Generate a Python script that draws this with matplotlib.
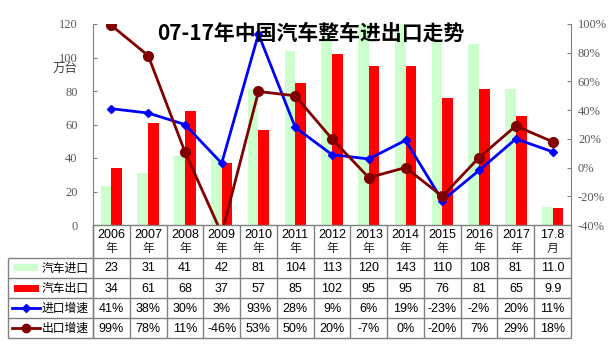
import matplotlib
matplotlib.use("Agg")
import matplotlib.pyplot as plt
import numpy as np
from matplotlib.transforms import blended_transform_factory
from matplotlib.patches import Rectangle
from matplotlib.lines import Line2D

plt.rcParams['font.family'] = ['Noto Sans CJK SC', 'DejaVu Sans']

# ---- data -------------------------------------------------------------
years = ["2006", "2007", "2008", "2009", "2010", "2011", "2012",
         "2013", "2014", "2015", "2016", "2017", "17.8"]
year_units = ["年"] * 12 + ["月"]
imports = [23, 31, 41, 42, 81, 104, 113, 120, 143, 110, 108, 81, 11.0]
exports = [34, 61, 68, 37, 57, 85, 102, 95, 95, 76, 81, 65, 9.9]
import_growth = [41, 38, 30, 3, 93, 28, 9, 6, 19, -23, -2, 20, 11]
export_growth = [99, 78, 11, -46, 53, 50, 20, -7, 0, -20, 7, 29, 18]
import_labels = ["23", "31", "41", "42", "81", "104", "113", "120", "143",
                 "110", "108", "81", "11.0"]
export_labels = ["34", "61", "68", "37", "57", "85", "102", "95", "95",
                 "76", "81", "65", "9.9"]
series_names = ["汽车进口", "汽车出口", "进口增速", "出口增速"]
left_ticks = [0, 20, 40, 60, 80, 100, 120]
right_ticks = [-40, -20, 0, 20, 40, 60, 80, 100]

# ---- styling ----------------------------------------------------------
W, H = 610, 346
GREEN = "#CCFFCC"
RED = "#FF0000"
BLUE = "#0000FF"
MAROON = "#800000"
GRID = "#808080"
TICK_COLOR = "#595959"

fig = plt.figure(figsize=(W / 100, H / 100), dpi=100)
ax_l, ax_r, ax_t, ax_b = 93, 571, 24, 225
ax = fig.add_axes([ax_l / W, 1 - ax_b / H, (ax_r - ax_l) / W, (ax_b - ax_t) / H])
ax2 = ax.twinx()

n = len(years)
x = np.arange(n)
bw = 0.29
ax.bar(x - bw / 2, imports, width=bw, color=GREEN, zorder=2)
ax.bar(x + bw / 2, exports, width=bw, color=RED, zorder=2)
ax.set_xlim(-0.5, n - 0.5)
ax.set_ylim(0, 120)

ax2.plot(x, import_growth, color=BLUE, lw=2, marker="D", ms=4.5, zorder=3)
ax2.plot(x, export_growth, color=MAROON, lw=2, marker="o", ms=7, zorder=4)
ax2.set_ylim(-40, 100)

serif = "Liberation Serif"
ax.set_yticks(left_ticks)
ax.set_yticklabels([str(v) for v in left_ticks], family=serif, fontsize=9, color=TICK_COLOR)
ax2.set_yticks(right_ticks)
ax2.set_yticklabels([f"{v}%" for v in right_ticks], family=serif, fontsize=9, color=TICK_COLOR)
ax.set_xticks([])
for a in (ax, ax2):
    a.tick_params(axis="y", direction="in", length=3, color=GRID)
    for side in ("top", "bottom"):
        a.spines[side].set_visible(False)
    a.spines["left"].set_color(GRID)
    a.spines["right"].set_color(GRID)
ax.tick_params(axis="y", pad=11)
ax2.tick_params(axis="y", pad=5)
ax.spines["right"].set_visible(False)
ax2.spines["left"].set_visible(False)

fig.text(65 / W, 1 - 68 / H, "万台", ha="center", va="center", fontsize=9, color="#404040")
fig.text(0.51, 1 - 33 / H, "07-17年中国汽车整车进出口走势", ha="center", va="center",
         fontsize=15, fontweight="bold", color="black")

# ---- data table -------------------------------------------------------
tr = blended_transform_factory(ax.transData, fig.transFigure)


def fy(py):
    return 1 - py / H


def fx(px):
    return px / W


row_edges = [225, 257.7, 278, 298.3, 318.3, 338.3]
line_kw = dict(color=GRID, lw=1, solid_capstyle="butt")

# column separators
for i in range(n + 1):
    fig.add_artist(Line2D([i - 0.5, i - 0.5], [fy(row_edges[0]), fy(row_edges[-1])],
                          transform=tr, **line_kw))
# row separators
for k, py in enumerate(row_edges):
    x0 = 8 if k >= 1 else ax_l
    fig.add_artist(Line2D([fx(x0), fx(ax_r)], [fy(py), fy(py)],
                          transform=fig.transFigure, **line_kw))
fig.add_artist(Line2D([fx(8), fx(8)], [fy(row_edges[1]), fy(row_edges[-1])],
                      transform=fig.transFigure, **line_kw))
fig.add_artist(Line2D([fx(ax_l), fx(ax_l)], [fy(row_edges[0]), fy(row_edges[-1])],
                      transform=fig.transFigure, **line_kw))

num_font = "Liberation Sans"
for i in range(n):
    ax.text(i, fy(235), years[i], transform=tr, ha="center", va="center",
            fontsize=9, family=num_font)
    ax.text(i, fy(248.5), year_units[i], transform=tr, ha="center", va="center",
            fontsize=8.5, color="#202020")

rows = [import_labels, export_labels,
        [f"{v}%" for v in import_growth], [f"{v}%" for v in export_growth]]
for r, vals in enumerate(rows):
    yc = (row_edges[r + 1] + row_edges[r + 2]) / 2 + 0.5
    for i, v in enumerate(vals):
        ax.text(i, fy(yc), v, transform=tr, ha="center", va="center",
                fontsize=9, family=num_font)
    fig.text(fx(89), fy(yc), series_names[r], ha="right", va="center", fontsize=8.5)

# legend keys in the first column
def key_y(r):
    return (row_edges[r + 1] + row_edges[r + 2]) / 2

fig.add_artist(Rectangle((fx(14), fy(key_y(0) + 3.5)), fx(24), 7 / H,
                         transform=fig.transFigure, color=GREEN, lw=0))
fig.add_artist(Rectangle((fx(14), fy(key_y(1) + 3.5)), fx(25), 7 / H,
                         transform=fig.transFigure, color=RED, lw=0))
fig.add_artist(Line2D([fx(12), fx(40)], [fy(key_y(2)), fy(key_y(2))],
                      transform=fig.transFigure, color=BLUE, lw=2))
fig.add_artist(Line2D([fx(26)], [fy(key_y(2))], transform=fig.transFigure,
                      color=BLUE, marker="D", ms=4.5, lw=0))
fig.add_artist(Line2D([fx(12), fx(40)], [fy(key_y(3)), fy(key_y(3))],
                      transform=fig.transFigure, color=MAROON, lw=2))
fig.add_artist(Line2D([fx(26)], [fy(key_y(3))], transform=fig.transFigure,
                      color=MAROON, marker="o", ms=6, lw=0))

fig.savefig("out.png", dpi=100)
